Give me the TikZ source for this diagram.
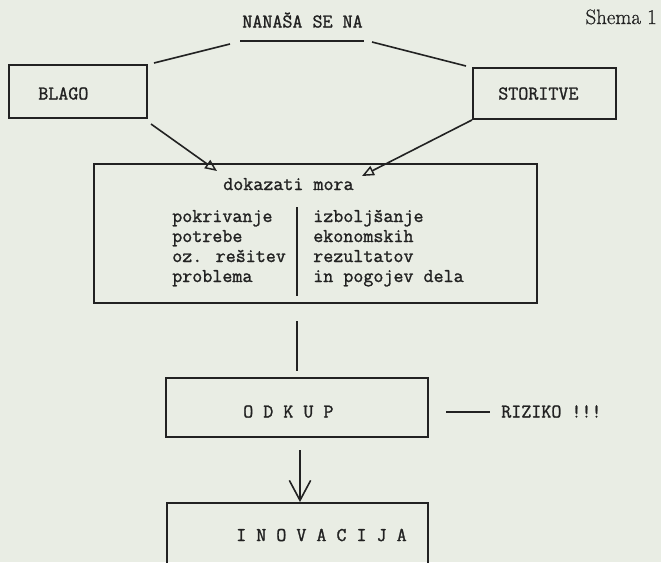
\documentclass[tikz,border=0pt]{standalone}
\usepackage{fontspec}
\newfontfamily\twfont{Latin Modern Mono}[FakeBold=1.3]
\newfontfamily\shfont{Latin Modern Roman}[FakeBold=0.8]
\usetikzlibrary{arrows.meta,calc}
\definecolor{paper}{RGB}{233,237,228}
\definecolor{ink}{RGB}{34,34,34}
\begin{document}
\begin{tikzpicture}[x=0.75pt,y=-0.75pt,
  box/.style={draw=ink,line width=1.4pt,rectangle,inner sep=0pt},
  tt/.style={font=\fontsize{14.6}{15}\twfont,text=ink,inner sep=0pt},
  ln/.style={draw=ink,line width=1.2pt},
  tri/.style={ln,-{Triangle[open,length=9pt,width=7.5pt,line width=1.1pt]}},
  barb/.style={ln,-{Straight Barb[length=15pt,width=16pt,line width=1.2pt]}}]
\useasboundingbox (0,0) rectangle (661,562);
\clip (0,0) rectangle (661,562);
\fill[paper] (0,0) rectangle (661,562);

% boxes
\node[box,minimum width=103.5pt,minimum height=39.75pt] (blago) at (78,91.5) {};
\node[box,minimum width=107.25pt,minimum height=38.25pt] (storitve) at (544.5,93.5) {};
\node[box,minimum width=332.25pt,minimum height=104.25pt] (main) at (315.5,233.5) {};
\node[box,minimum width=196.5pt,minimum height=44.25pt] (odkup) at (297,407.5) {};
\node[box,minimum width=195.75pt,minimum height=72.75pt] (inov) at (297.5,551.5) {};

% texts
\node[tt,anchor=base] (nanasa) at (302.5,27.5) {NANAŠA SE NA};
\node[font=\fontsize{15.6}{18}\shfont,text=ink,anchor=base east,inner sep=0pt] (shema) at (657,24) {Shema 1};
\node[tt,anchor=base west] (blagot) at (38,99.5) {BLAGO};
\node[tt,anchor=base west] (storitvet) at (498,99.5) {STORITVE};
\node[tt,anchor=base west] (dok) at (223,190) {dokazati mora};
\foreach \t [count=\i] in {pokrivanje,potrebe,oz. rešitev,problema}
  \node[tt,anchor=base west] (l\i) at (172,202+20*\i) {\t};
\foreach \t [count=\i] in {izboljšanje,ekonomskih,rezultatov,in pogojev dela}
  \node[tt,anchor=base west] (r\i) at (313,202+20*\i) {\t};
\node[tt,anchor=base west] (odkupt) at (243,417.5) {O D K U P};
\node[tt,anchor=base west] (riziko) at (501,417.5) {RIZIKO !!!};
\node[tt,anchor=base west] (inovt) at (236,541) {I N O V A C I J A};

% coordinates
\coordinate (ul1) at (240,41);
\coordinate (ul2) at (364,41);
\coordinate (la) at (154,63);
\coordinate (lb) at (230,44);
\coordinate (ra) at (372,42);
\coordinate (rb) at (466,66);
\coordinate (ba) at (151,124);
\coordinate (bt) at (217,171);
\coordinate (st) at (362,176);
\coordinate (dv1) at (297,207);
\coordinate (dv2) at (297,296);
\coordinate (c1) at (297,321);
\coordinate (c2) at (297,371);
\coordinate (c3) at (300,450);
\coordinate (rz1) at (446,412);
\coordinate (rz2) at (490,412);

% connectors
\draw[ln] (ul1) -- (ul2);
\draw[ln] (la) -- (lb);
\draw[ln] (ra) -- (rb);
\draw[tri] (ba) -- (bt);
\draw[tri] (storitve.south west) -- (st);
\draw[ln] (dv1) -- (dv2);
\draw[ln] (c1) -- (c2);
\draw[barb] (c3) -- (c3 |- inov.north);
\draw[ln] (rz1) -- (rz2);
\end{tikzpicture}
\end{document}
